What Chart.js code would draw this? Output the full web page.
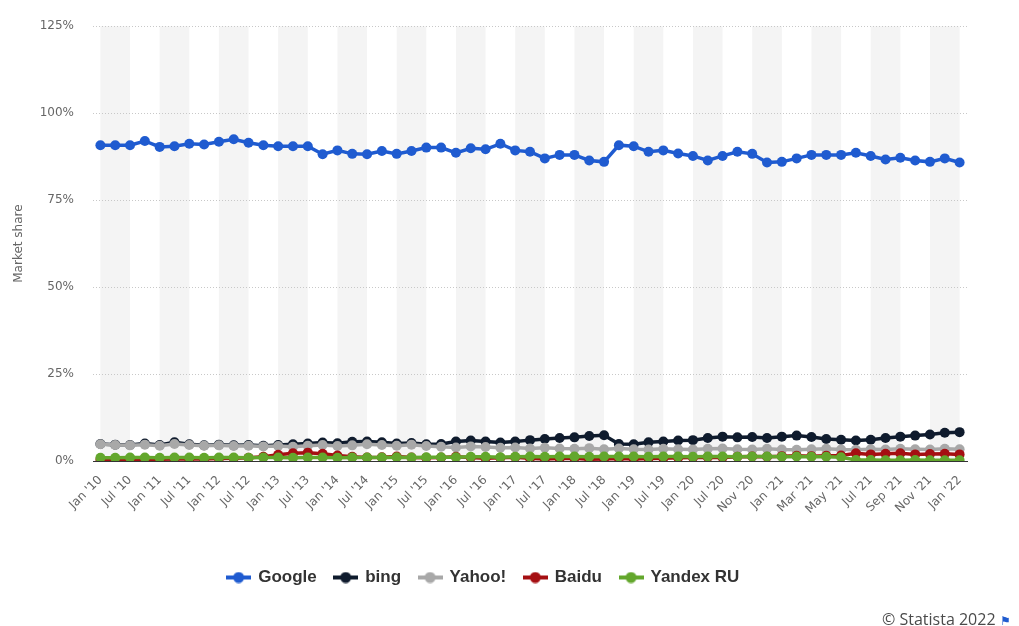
<!DOCTYPE html>
<html>
<head>
<meta charset="utf-8">
<title>Search engine market share</title>
<script src="https://cdn.jsdelivr.net/npm/chart.js@4.4.1/dist/chart.umd.min.js"></script>
<style>
  html, body { margin: 0; padding: 0; background: #fff; }
  #wrap { position: relative; width: 1019px; height: 626px; }
  #credit {
    position: absolute; left: 882px; top: 608px;
    font: 16px "Open Sans", sans-serif; color: #4a4a4a; white-space: nowrap;
  }
  #credit .flag { color: #1f5bd0; font-size: 12px; }
</style>
</head>
<body>
<div id="wrap">
  <canvas id="chart" width="1019" height="626"></canvas>
  <div id="credit">© Statista 2022 <span class="flag">&#9873;</span></div>
</div>
<script>
// categories: quarterly until Jul '20, then tighter
const dates = [
  "Jan '10", "Apr '10", "Jul '10", "Oct '10", "Jan '11", "Apr '11", "Jul '11", "Oct '11",
  "Jan '12", "Apr '12", "Jul '12", "Oct '12", "Jan '13", "Apr '13", "Jul '13", "Oct '13",
  "Jan '14", "Apr '14", "Jul '14", "Oct '14", "Jan '15", "Apr '15", "Jul '15", "Oct '15",
  "Jan '16", "Apr '16", "Jul '16", "Oct '16", "Jan '17", "Apr '17", "Jul '17", "Oct '17",
  "Jan '18", "Apr '18", "Jul '18", "Oct '18", "Jan '19", "Apr '19", "Jul '19", "Oct '19",
  "Jan '20", "Apr '20", "Jul '20", "Sep '20", "Nov '20", "Dec '20", "Jan '21", "Feb '21",
  "Mar '21", "Apr '21", "May '21", "Jun '21", "Jul '21", "Aug '21", "Sep '21", "Oct '21",
  "Nov '21", "Dec '21", "Jan '22"
];

// market share in percent
const google = [
  90.8, 90.8, 90.8, 92.0, 90.3, 90.5, 91.2, 91.0, 91.8, 92.5, 91.5, 90.8,
  90.5, 90.5, 90.5, 88.2, 89.3, 88.3, 88.2, 89.1, 88.3, 89.1, 90.1, 90.1,
  88.6, 89.9, 89.6, 91.2, 89.3, 88.9, 87.0, 88.0, 88.0, 86.4, 86.0, 90.8,
  90.5, 88.9, 89.3, 88.4, 87.7, 86.4, 87.7, 88.9, 88.3, 85.8, 86.0, 87.0,
  88.0, 88.0, 88.0, 88.6, 87.7, 86.7, 87.2, 86.4, 86.0, 87.0, 85.8
];
const bing = [
  4.9, 4.7, 4.6, 5.0, 4.6, 5.4, 4.8, 4.5, 4.7, 4.5, 4.6, 4.4,
  4.6, 4.8, 5.0, 5.3, 5.1, 5.5, 5.6, 5.4, 5.0, 5.2, 4.8, 4.9,
  5.6, 5.9, 5.6, 5.3, 5.6, 6.0, 6.3, 6.6, 6.8, 7.2, 7.4, 4.9,
  4.8, 5.4, 5.6, 5.9, 6.0, 6.6, 7.0, 6.8, 6.9, 6.6, 7.0, 7.3,
  6.9, 6.3, 6.1, 5.9, 6.1, 6.6, 7.0, 7.3, 7.6, 8.1, 8.3
];
const yahoo = [
  4.8, 4.6, 4.5, 4.7, 4.4, 4.9, 4.6, 4.4, 4.5, 4.3, 4.4, 4.2,
  4.3, 4.1, 4.4, 4.6, 4.3, 4.5, 4.8, 4.6, 4.4, 4.7, 4.3, 4.1,
  3.9, 4.2, 4.0, 3.8, 3.9, 3.6, 3.8, 3.6, 3.5, 3.7, 3.4, 3.6,
  3.4, 3.3, 3.5, 3.4, 3.3, 3.5, 3.6, 3.4, 3.3, 3.5, 3.3, 3.2,
  3.4, 3.5, 3.3, 3.2, 3.4, 3.3, 3.5, 3.4, 3.3, 3.5, 3.4
];
const baidu = [
  0.4, 0.4, 0.5, 0.5, 0.5, 0.6, 0.6, 0.6, 0.7, 0.8, 0.9, 1.2,
  1.8, 2.2, 2.4, 2.1, 1.6, 1.2, 1.0, 1.1, 1.3, 1.0, 0.9, 1.0,
  1.2, 1.0, 0.8, 0.9, 1.1, 0.8, 0.6, 0.7, 0.8, 0.5, 0.6, 0.7,
  0.6, 0.7, 0.8, 0.9, 1.0, 1.1, 1.0, 1.2, 1.3, 1.2, 1.4, 1.5,
  1.4, 1.5, 1.6, 2.2, 1.9, 2.1, 2.2, 1.9, 2.0, 2.1, 1.9
];
const yandex = [
  0.9, 0.9, 1.0, 1.0, 0.9, 1.0, 1.0, 0.9, 1.0, 1.0, 0.9, 1.0,
  1.0, 0.9, 1.0, 1.0, 0.9, 1.0, 1.0, 1.0, 1.1, 1.0, 1.1, 1.1,
  1.1, 1.2, 1.2, 1.1, 1.2, 1.3, 1.2, 1.3, 1.3, 1.2, 1.3, 1.3,
  1.3, 1.2, 1.3, 1.3, 1.2, 1.3, 1.3, 1.2, 1.3, 1.3, 1.2, 1.3,
  1.2, 1.2, 1.1, 0.3, 0.3, 0.2, 0.2, 0.3, 0.2, 0.2, 0.2
];
const yTicks = [0, 25, 50, 75, 100, 125];

const series = [
  { label: 'Google',    data: google, color: '#1f5bd0', order: 5 },
  { label: 'bing',      data: bing,   color: '#0f1b2d', order: 4 },
  { label: 'Yahoo!',    data: yahoo,  color: '#a8a8a8', order: 3 },
  { label: 'Baidu',     data: baidu,  color: '#a50f12', order: 2 },
  { label: 'Yandex RU', data: yandex, color: '#63a72c', order: 1 }
];

// little line-with-dot icon for the legend
function legendIcon(color) {
  const c = document.createElement('canvas');
  c.width = 25; c.height = 12;
  const g = c.getContext('2d');
  g.fillStyle = color;
  g.fillRect(0, 4, 25, 4);
  g.beginPath();
  g.arc(12.5, 6, 5.5, 0, Math.PI * 2);
  g.fill();
  return c;
}

// alternating grey column bands behind the plot
const bands = {
  id: 'bands',
  beforeDraw(chart) {
    const { ctx, chartArea: a, scales: { x } } = chart;
    ctx.save();
    ctx.fillStyle = '#f4f4f4';
    for (let i = 0; i + 2 < dates.length; i += 4) {
      const x0 = x.getPixelForValue(i);
      const x1 = x.getPixelForValue(i + 2);
      ctx.fillRect(x0, a.top, x1 - x0, a.bottom - a.top);
    }
    ctx.restore();
  }
};

const tickFont = { family: 'DejaVu Sans', size: 12 };

new Chart(document.getElementById('chart'), {
  type: 'line',
  data: {
    labels: dates,
    datasets: series.map(s => ({
      label: s.label,
      data: s.data,
      order: s.order,
      borderColor: s.color,
      backgroundColor: s.color,
      pointBackgroundColor: s.color,
      pointBorderColor: s.color,
      borderWidth: 3.5,
      pointRadius: 5,
      pointHoverRadius: 5,
      pointBorderWidth: 0,
      tension: 0
    }))
  },
  options: {
    responsive: false,
    animation: false,
    layout: { padding: { top: 16, right: 52, bottom: 30, left: 0 } },
    scales: {
      x: {
        offset: true,
        grid: { display: false },
        border: { display: true, color: '#333', width: 1 },
        ticks: {
          autoSkip: false,
          maxRotation: 45,
          minRotation: 45,
          padding: 4,
          color: '#666',
          font: tickFont,
          callback(v, i) { return i % 2 === 0 ? this.getLabelForValue(v) : ''; }
        },
        afterFit(scale) { scale.height = 90; }
      },
      y: {
        min: 0,
        max: 125,
        afterBuildTicks(scale) { scale.ticks = yTicks.map(v => ({ value: v })); },
        grid: { color: '#c8c8c8', drawTicks: false },
        border: { display: false, dash: [1, 2] },
        ticks: {
          padding: 19,
          color: '#666',
          font: tickFont,
          callback: v => v + '%'
        },
        title: {
          display: true,
          text: 'Market share',
          color: '#666',
          font: tickFont,
          padding: { top: 12, bottom: 0 }
        },
        afterFit(scale) { scale.width = 93; }
      }
    },
    plugins: {
      tooltip: { enabled: false },
      legend: {
        position: 'bottom',
        labels: {
          usePointStyle: true,
          pointStyleWidth: 22,
          padding: 18,
          color: '#333',
          font: { family: 'Liberation Sans', size: 17, weight: 'bold' },
          generateLabels(chart) {
            return chart.data.datasets.map((ds, i) => ({
              text: ds.label,
              pointStyle: legendIcon(ds.borderColor),
              fillStyle: ds.borderColor,
              strokeStyle: ds.borderColor,
              lineWidth: 0,
              fontColor: '#333',
              hidden: false,
              datasetIndex: i
            }));
          }
        }
      }
    }
  },
  plugins: [bands]
});
</script>
</body>
</html>
